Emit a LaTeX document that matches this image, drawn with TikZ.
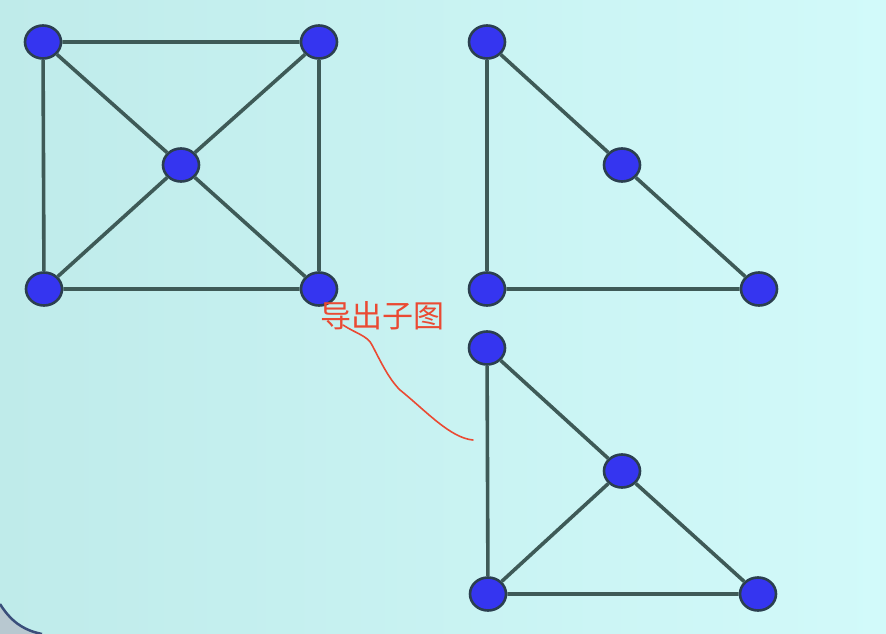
\documentclass[tikz,border=0pt]{standalone}
\usepackage{fontspec}
\usetikzlibrary{shapes.geometric}
\newfontfamily\cjk{Noto Sans CJK SC}
\begin{document}
\begin{tikzpicture}[x=1pt,y=-1pt,
  vtx/.style={ellipse,draw=vline,line width=2.6pt,fill=vblue,minimum width=36pt,minimum height=33pt,inner sep=0pt},
  edge/.style={draw=eline,line width=3.6pt},
  ]
\definecolor{vblue}{HTML}{3535F0}
\definecolor{vline}{HTML}{2B3F4F}
\definecolor{eline}{HTML}{3E5A57}
\definecolor{bgl}{HTML}{BFEBEA}
\definecolor{bgr}{HTML}{D2FAFA}
\definecolor{redc}{HTML}{EA4A33}
\definecolor{cornerg}{HTML}{B8C8D0}
\definecolor{cornerd}{HTML}{3A4E7A}
\useasboundingbox (0,0) rectangle (886,634);
\shade[left color=bgl,right color=bgr] (0,0) rectangle (886,634);
\fill[cornerg] (0,604) .. controls (10,620) and (22,630) .. (42,634) -- (0,634) -- cycle;
\draw[cornerd,line width=2.5pt] (0,604) .. controls (10,620) and (22,630) .. (42,634);
% graph 1
\node[vtx] (a1) at (43,42) {};
\node[vtx] (a2) at (319,42) {};
\node[vtx] (a3) at (181,165) {};
\node[vtx] (a4) at (44,289) {};
\node[vtx] (a5) at (319,289) {};
% graph 2
\node[vtx] (b1) at (487,42) {};
\node[vtx] (b2) at (622,165) {};
\node[vtx] (b3) at (487,289) {};
\node[vtx] (b4) at (759,289) {};
% graph 3
\node[vtx] (c1) at (487,348) {};
\node[vtx] (c2) at (622,471) {};
\node[vtx] (c3) at (488,594) {};
\node[vtx] (c4) at (758,594) {};
\draw[edge] (a1) -- (a2) (a1) -- (a4) (a2) -- (a5) (a4) -- (a5)
  (a1) -- (a3) (a2) -- (a3) (a4) -- (a3) (a5) -- (a3);
\draw[edge] (b1) -- (b2) (b2) -- (b4) (b1) -- (b3) (b3) -- (b4);
\draw[edge] (c1) -- (c2) (c1) -- (c3) (c2) -- (c3) (c2) -- (c4) (c3) -- (c4);
\node[text=redc,font=\cjk\fontsize{31}{31}\selectfont,inner sep=0pt] (lbl) at (382,316) {导出子图};
\coordinate (cs) at (343,325);
\coordinate (ce) at (473,440);
\draw[redc,line width=1.6pt,line cap=round] (cs) .. controls (355,333) and (368,336) .. (372,345)
  .. controls (380,360) and (388,378) .. (400,390)
  .. controls (425,410) and (450,438) .. (ce);
\end{tikzpicture}
\end{document}
